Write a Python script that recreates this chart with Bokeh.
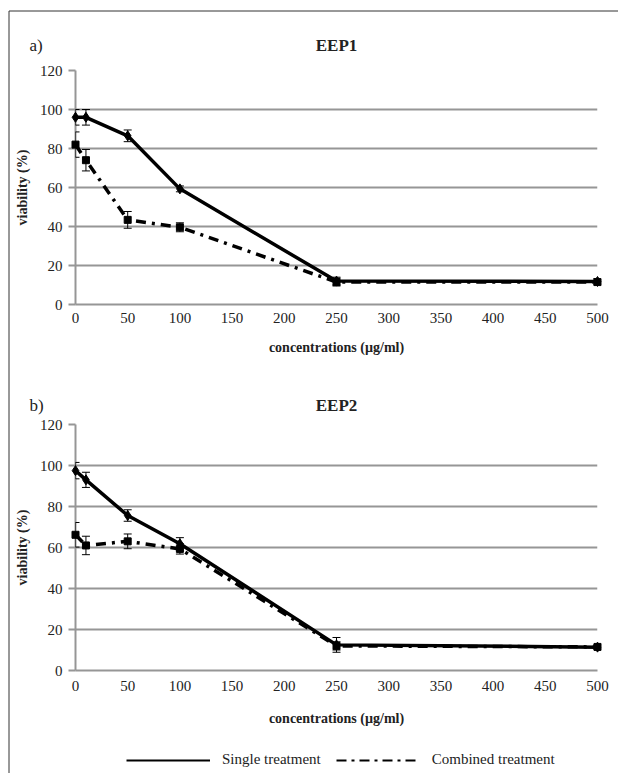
from bokeh.plotting import figure
from bokeh.models import (Range1d, FixedTicker, Whisker, ColumnDataSource,
                          Legend, LegendItem, TeeHead)
from bokeh.layouts import column
from bokeh.embed import file_html
from bokeh.resources import INLINE
from bokeh.core.properties import value

# ---- data ----
conc = [0, 10, 50, 100, 250, 500]

eep1_single = [96, 96, 86.5, 59.3, 12, 11.8]
eep1_single_err = [4, 4, 3, 1.5, 2, 1.5]
eep1_combined = [82, 74, 43.4, 39.6, 11.5, 11.5]
eep1_combined_err = [6.5, 5.5, 4.3, 2.3, 2, 1.5]

eep2_single = [97.5, 93, 75.6, 61.8, 12.5, 11.4]
eep2_single_err = [4, 3.7, 2.8, 3, 3.6, 1]
eep2_combined = [66.2, 61, 63, 59.3, 12, 11.5]
eep2_combined_err = [6, 4.5, 3.6, 2.5, 2, 1]

x_ticks = [0, 50, 100, 150, 200, 250, 300, 350, 400, 450, 500]
y_ticks = [0, 20, 40, 60, 80, 100, 120]
legend_labels = ["Single treatment", "Combined treatment"]

FONT = "Liberation Serif"
GRID = "#969696"
TXT = "#222222"
BORDER = "#333333"
DASHDOT = "10 6 3 6"
W = 618
H = 773
FRAME_L, FRAME_W = 75, 522
X0, X1, Y0, Y1 = 0, 500, 0, 120


def make_panel(title, tag, single, s_err, comb, c_err, canvas_top, frame_top,
               frame_h, canvas_bottom, title_y, lab_standoff, title_standoff,
               top_border=None):
    height = canvas_bottom - canvas_top
    mtop = frame_top - canvas_top
    mbot = height - mtop - frame_h
    p = figure(width=W, height=height,
               x_range=Range1d(X0, X1), y_range=Range1d(Y0, Y1),
               output_backend="svg", toolbar_location=None,
               min_border_left=FRAME_L, min_border_right=W - FRAME_L - FRAME_W,
               min_border_top=mtop, min_border_bottom=mbot,
               outline_line_color=None, background_fill_color="white")

    # page pixel -> data coordinate helpers (for decorations outside the frame)
    def dx(px):
        return X0 + (px - FRAME_L) * (X1 - X0) / FRAME_W

    def dy(py):
        return Y0 + (frame_top + frame_h - py) * (Y1 - Y0) / frame_h

    p.xgrid.visible = False
    p.ygrid.ticker = FixedTicker(ticks=y_ticks)
    p.ygrid.grid_line_color = GRID
    p.ygrid.grid_line_width = 2

    ya = p.yaxis[0]
    ya.ticker = FixedTicker(ticks=y_ticks)
    ya.axis_line_color = GRID
    ya.axis_line_width = 2
    ya.major_tick_line_color = GRID
    ya.major_tick_line_width = 2
    ya.major_tick_out = 7
    ya.major_tick_in = 0
    ya.minor_tick_line_color = None
    ya.major_label_text_font = FONT
    ya.major_label_text_font_size = "15px"
    ya.major_label_text_color = TXT
    ya.major_label_standoff = 6
    ya.axis_label = "viability (%)"
    ya.axis_label_text_font = FONT
    ya.axis_label_text_font_size = "14px"
    ya.axis_label_text_font_style = "bold"
    ya.axis_label_text_color = TXT
    ya.axis_label_standoff = 7

    xa = p.xaxis[0]
    xa.ticker = FixedTicker(ticks=x_ticks)
    xa.axis_line_color = GRID
    xa.axis_line_width = 2
    xa.major_tick_line_color = None
    xa.major_tick_out = 0
    xa.major_tick_in = 0
    xa.minor_tick_line_color = None
    xa.major_label_text_font = FONT
    xa.major_label_text_font_size = "15px"
    xa.major_label_text_color = TXT
    xa.major_label_standoff = lab_standoff
    xa.axis_label = "concentrations (\u00b5g/ml)"
    xa.axis_label_text_font = FONT
    xa.axis_label_text_font_size = "14px"
    xa.axis_label_text_font_style = "bold"
    xa.axis_label_text_color = TXT
    xa.axis_label_standoff = title_standoff

    # error bars
    for vals, errs in ((comb, c_err), (single, s_err)):
        src = ColumnDataSource(dict(x=conc,
                                    upper=[v + e for v, e in zip(vals, errs)],
                                    lower=[v - e for v, e in zip(vals, errs)]))
        w = Whisker(base="x", upper="upper", lower="lower", source=src,
                    line_color="black", line_width=1, level="overlay",
                    upper_head=TeeHead(size=8, line_color="black", line_width=1),
                    lower_head=TeeHead(size=8, line_color="black", line_width=1))
        p.add_layout(w)

    p.line(conc, comb, line_color="black", line_width=3.5, line_dash=DASHDOT,
           level="overlay")
    p.scatter(conc, comb, marker="square", size=7, color="black", level="overlay")
    p.line(conc, single, line_color="black", line_width=3.5, level="overlay")
    p.scatter(conc, single, marker="diamond", size=10, color="black", level="overlay")

    # panel title and tag
    p.text(x=[dx(FRAME_L + FRAME_W / 2)], y=[dy(title_y)], text=[title],
           text_font=value(FONT), text_font_size="17px", text_font_style="bold",
           text_color=TXT, text_align="center", text_baseline="middle",
           level="overlay")
    p.text(x=[dx(29)], y=[dy(title_y)], text=[tag],
           text_font=value(FONT), text_font_size="17px",
           text_color=TXT, text_align="left", text_baseline="middle",
           level="overlay")

    # page frame border (left and top)
    ytop = top_border if top_border is not None else canvas_top - 1
    p.line(x=[dx(8.5), dx(8.5)], y=[dy(ytop), dy(canvas_bottom + 1)],
           line_color=BORDER, line_width=1, level="overlay")
    if top_border is not None:
        p.line(x=[dx(8.5), dx(W + 2)], y=[dy(top_border), dy(top_border)],
               line_color=BORDER, line_width=1, level="overlay")
    return p


pa = make_panel("EEP1", "a)", eep1_single, eep1_single_err, eep1_combined,
                eep1_combined_err, canvas_top=0, frame_top=70, frame_h=234,
                canvas_bottom=381, title_y=45, lab_standoff=8, title_standoff=14,
                top_border=10.5)
pb = make_panel("EEP2", "b)", eep2_single, eep2_single_err, eep2_combined,
                eep2_combined_err, canvas_top=381, frame_top=424, frame_h=246,
                canvas_bottom=737, title_y=405, lab_standoff=10, title_standoff=17)

# legend strip (its frame is aligned with the panels' frames by the column)
SH = H - 737
pl = figure(width=W, height=SH, x_range=Range1d(0, FRAME_W), y_range=Range1d(0, SH),
            output_backend="svg", toolbar_location=None, min_border=0,
            min_border_left=FRAME_L, min_border_right=W - FRAME_L - FRAME_W,
            outline_line_color=None, background_fill_color="white")
pl.axis.visible = False
pl.grid.visible = False
pl.line(x=[8.5 - FRAME_L, 8.5 - FRAME_L], y=[-2, SH + 2], line_color=BORDER,
        line_width=1, level="overlay")
r1 = pl.line([-30, -20], [-30, -30], line_color="black", line_width=2)
r2 = pl.line([-30, -20], [-30, -30], line_color="black", line_width=2, line_dash="10 5 3 5")
lg = Legend(items=[LegendItem(label=legend_labels[0], renderers=[r1]),
                   LegendItem(label=legend_labels[1], renderers=[r2])],
            orientation="horizontal", location=(51, 5),
            border_line_color=None, background_fill_alpha=0,
            glyph_width=84, glyph_height=14, label_text_font=FONT,
            label_text_font_size="15px", label_text_color=TXT,
            spacing=15, padding=0, margin=0, label_standoff=12)
pl.add_layout(lg)

layout = column(pa, pb, pl, spacing=0)

open("out.html", "w").write(file_html(layout, INLINE))
